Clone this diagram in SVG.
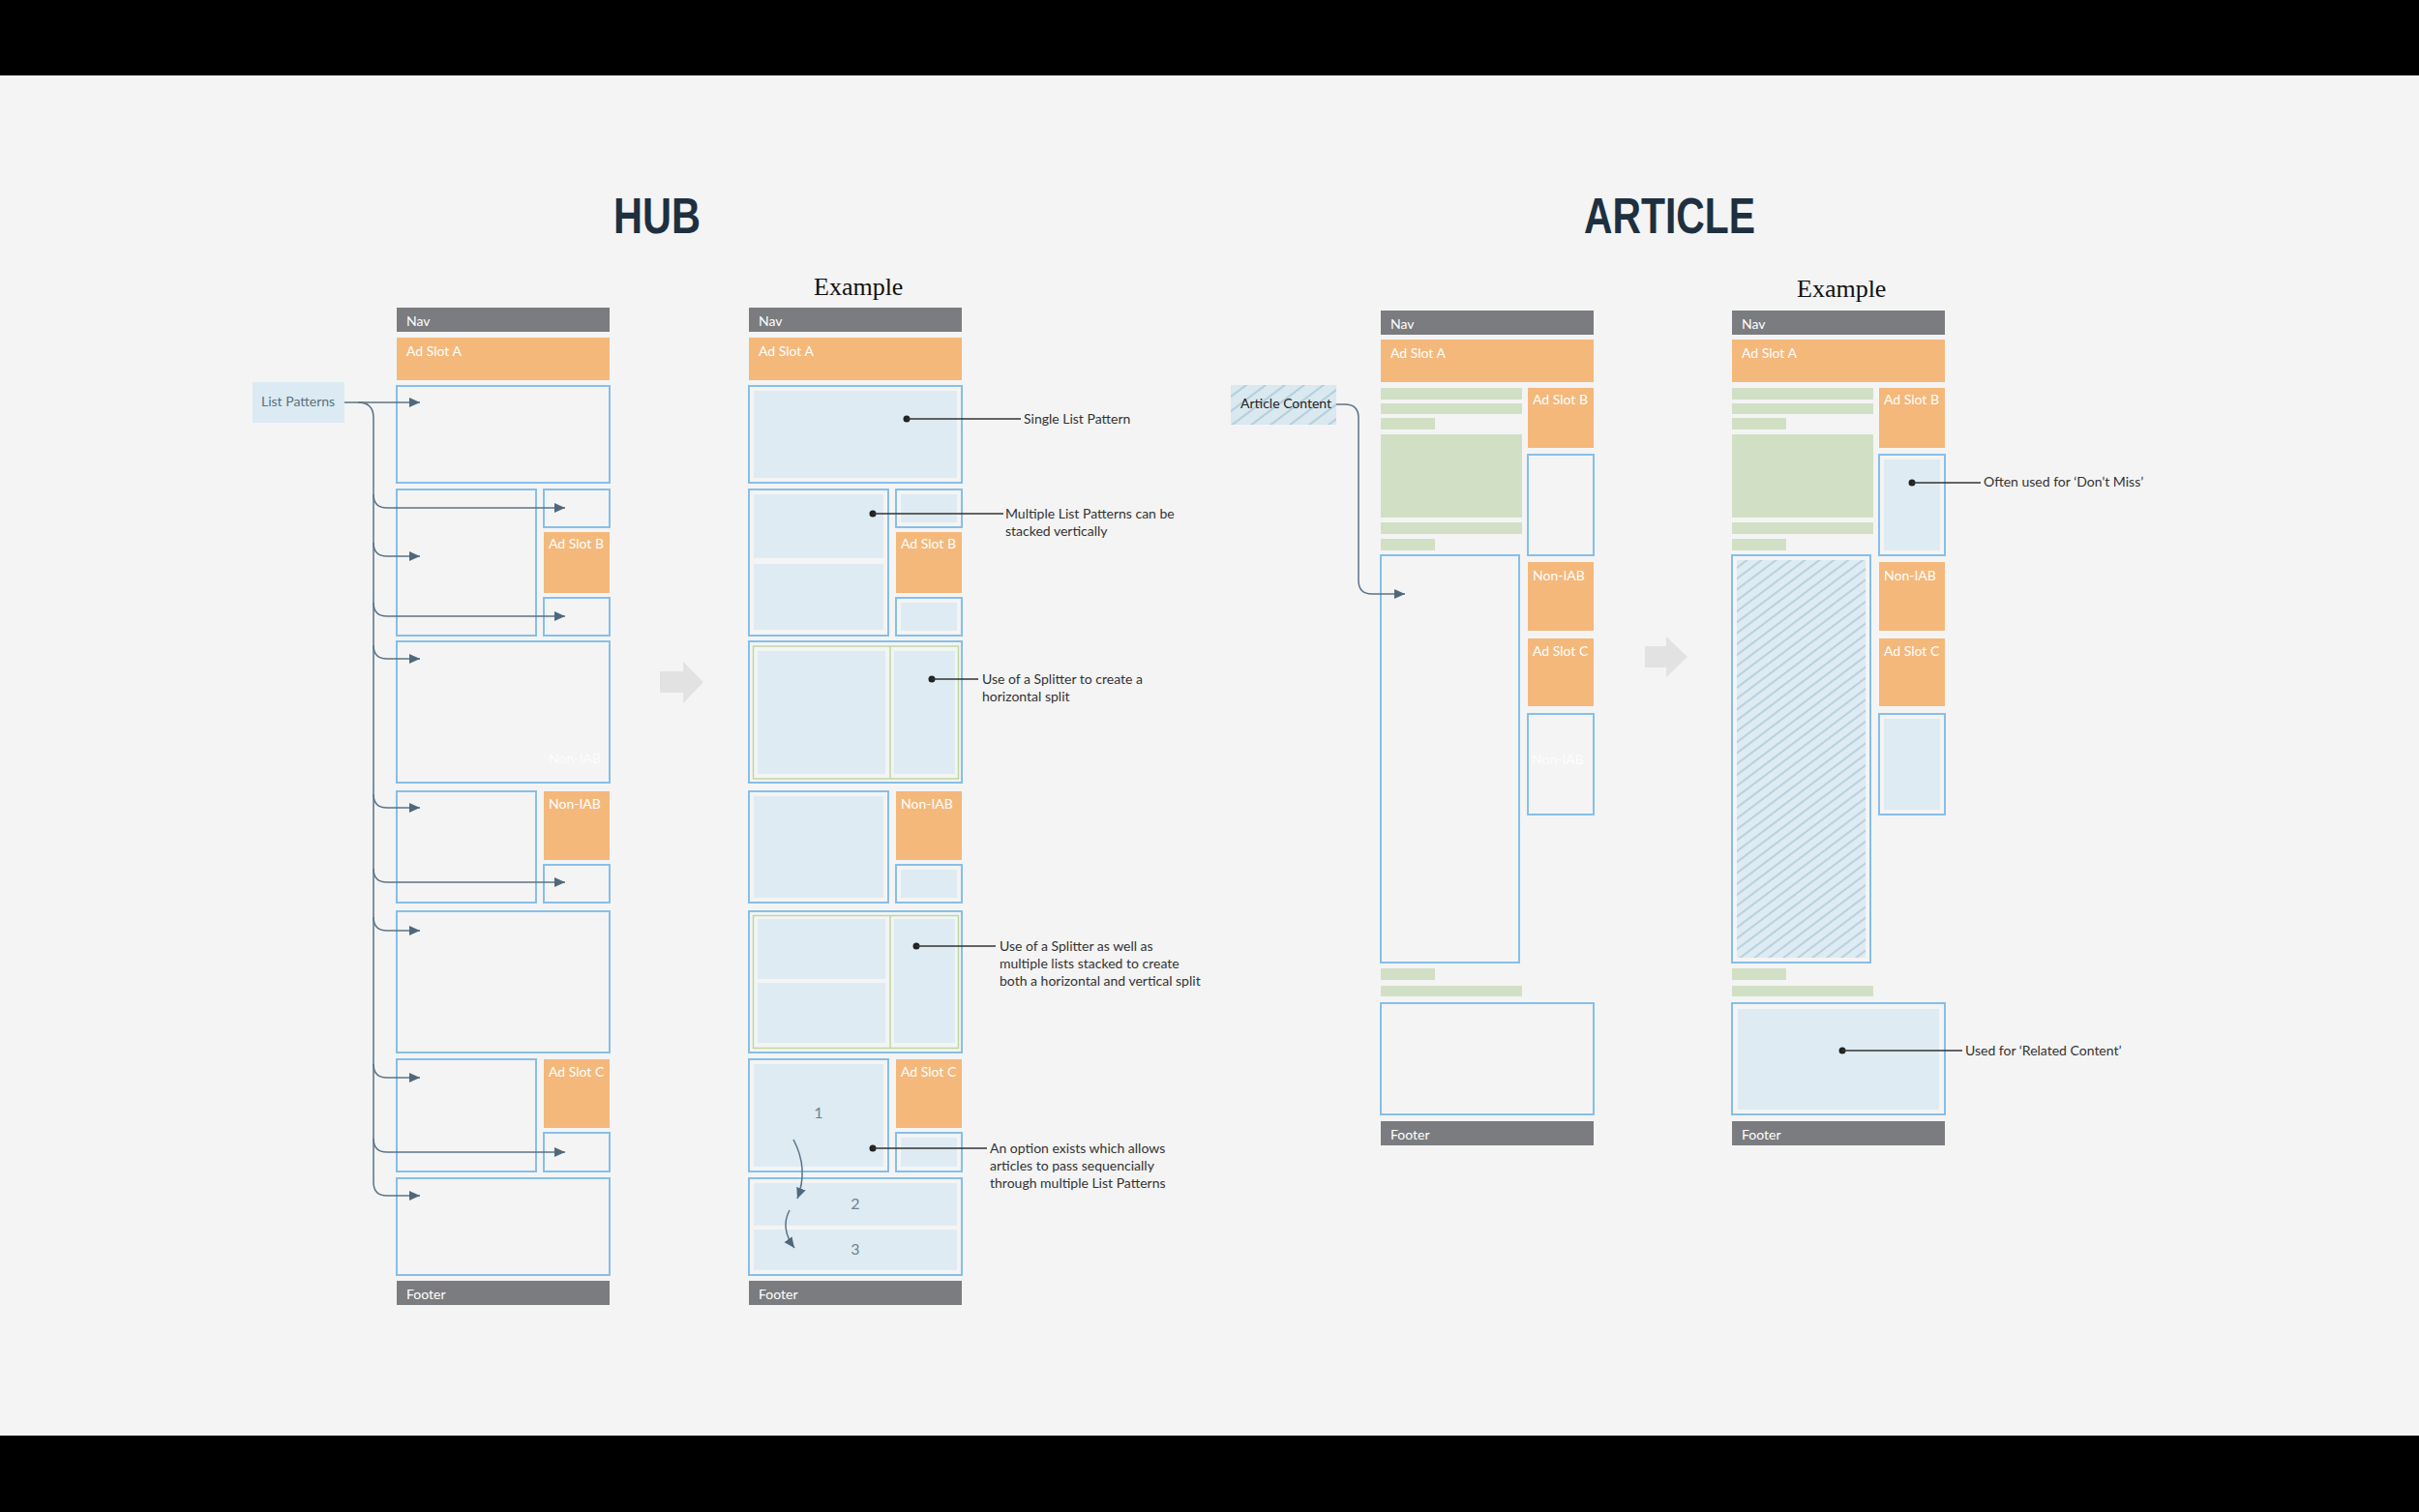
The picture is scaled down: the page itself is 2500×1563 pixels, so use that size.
<svg xmlns="http://www.w3.org/2000/svg" width="2500" height="1563" viewBox="0 0 2500 1563">
<defs>
<style>
.lb{fill:none;stroke:#86bfea;stroke-width:2}
.fill{fill:#deebf2}
.or{fill:#f4b87b}
.gr{fill:#7b7c7f}
.gb{fill:#d1e0c4}
.sp{fill:none;stroke:#bcd9a2;stroke-width:1.5}
.wt{font-family:Lato,"Liberation Sans",sans-serif;font-size:14px;fill:#ffffff}
.ft{font-family:Lato,"Liberation Sans",sans-serif;font-size:14px;fill:#ffffff;opacity:0.85}
.an{font-family:Lato,"Liberation Sans",sans-serif;font-size:14px;fill:#333333}
.num{font-family:Lato,"Liberation Sans",sans-serif;font-size:16px;fill:#6e8394}
.ttl{font-family:"Liberation Sans",Arial,sans-serif;font-weight:bold;font-size:51px;fill:#1e3040}
.ex{font-family:"Liberation Serif","Times New Roman",serif;font-size:26px;fill:#111}
.cn{fill:none;stroke:#5b7387;stroke-width:1.5}
.al{fill:none;stroke:#333;stroke-width:1.3}
.dot{fill:#222}
.big{fill:#e2e2e2}
</style>
<marker id="ah" markerUnits="userSpaceOnUse" markerWidth="12" markerHeight="10" refX="11" refY="5" orient="auto">
<path d="M0,0 L11,5 L0,10 Z" fill="#4f687c"/>
</marker>
<pattern id="hatch" patternUnits="userSpaceOnUse" width="9" height="9" patternTransform="rotate(53)">
<rect width="9" height="9" fill="#deebf2"/>
<line x1="1" y1="0" x2="1" y2="9" stroke="#aecbd9" stroke-width="1.6"/>
</pattern>
<pattern id="hatch2" patternUnits="userSpaceOnUse" width="12" height="12" patternTransform="rotate(53)">
<rect width="12" height="12" fill="#dae8ef"/>
<line x1="1" y1="0" x2="1" y2="12" stroke="#b3cfdc" stroke-width="2"/>
</pattern>
</defs>

<rect x="0" y="0" width="2500" height="1563" fill="#f4f4f4"/>
<rect x="0" y="0" width="2500" height="78" fill="#000"/>
<rect x="0" y="1484" width="2500" height="79" fill="#000"/>

<g id="titles">
<text class="ttl" x="634" y="241" textLength="90" lengthAdjust="spacingAndGlyphs">HUB</text>
<text class="ttl" x="1637" y="241" textLength="177" lengthAdjust="spacingAndGlyphs">ARTICLE</text>
<text class="ex" x="841" y="305">Example</text>
<text class="ex" x="1857" y="307">Example</text>
</g>

<!-- HUB left column -->
<g id="hub-nav"><rect class="gr" x="410" y="318" width="220" height="25"/><text class="wt" x="420" y="337">Nav</text></g>
<g id="hub-adA"><rect class="or" x="410" y="349" width="220" height="44"/><text class="wt" x="420" y="368">Ad Slot A</text></g>
<g id="hub-list1"><rect class="lb" x="410" y="399" width="220" height="100"/></g>
<g id="hub-row2">
<rect class="lb" x="410" y="506" width="144" height="151"/>
<rect class="lb" x="562" y="506" width="68" height="39"/>
<rect class="or" x="562" y="550" width="68" height="63"/><text class="wt" x="567" y="567">Ad Slot B</text>
<rect class="lb" x="562" y="618" width="68" height="39"/>
</g>
<g id="hub-row3"><rect class="lb" x="410" y="663" width="220" height="146"/><text class="ft" x="567" y="789">Non-IAB</text></g>
<g id="hub-row4">
<rect class="lb" x="410" y="818" width="144" height="115"/>
<rect class="or" x="562" y="818" width="68" height="71"/><text class="wt" x="567" y="836">Non-IAB</text>
<rect class="lb" x="562" y="894" width="68" height="39"/>
</g>
<g id="hub-row5"><rect class="lb" x="410" y="942" width="220" height="146"/></g>
<g id="hub-row6">
<rect class="lb" x="410" y="1095" width="144" height="116"/>
<rect class="or" x="562" y="1095" width="68" height="71"/><text class="wt" x="567" y="1113">Ad Slot C</text>
<rect class="lb" x="562" y="1171" width="68" height="40"/>
</g>
<g id="hub-row7"><rect class="lb" x="410" y="1218" width="220" height="100"/></g>
<g id="hub-footer"><rect class="gr" x="410" y="1324" width="220" height="25"/><text class="wt" x="420" y="1343">Footer</text></g>

<g id="list-patterns-label">
<rect x="261" y="395" width="95" height="42" fill="#dcebf3"/>
<text x="270" y="420" font-family="Lato,'Liberation Sans',sans-serif" font-size="14" fill="#5a7080">List Patterns</text>
</g>

<!-- HUB example column -->
<g id="ex-nav"><rect class="gr" x="774" y="318" width="220" height="25"/><text class="wt" x="784" y="337">Nav</text></g>
<g id="ex-adA"><rect class="or" x="774" y="349" width="220" height="44"/><text class="wt" x="784" y="368">Ad Slot A</text></g>
<g id="ex-list1"><rect class="lb" x="774" y="399" width="220" height="100"/><rect class="fill" x="779" y="404" width="210" height="90"/></g>
<g id="ex-row2">
<rect class="lb" x="774" y="506" width="144" height="151"/>
<rect class="fill" x="779" y="511" width="134" height="66"/>
<rect class="fill" x="779" y="583" width="134" height="68"/>
<rect class="lb" x="926" y="506" width="68" height="39"/><rect class="fill" x="931" y="511" width="58" height="29"/>
<rect class="or" x="926" y="550" width="68" height="63"/><text class="wt" x="931" y="567">Ad Slot B</text>
<rect class="lb" x="926" y="618" width="68" height="39"/><rect class="fill" x="931" y="623" width="58" height="29"/>
</g>
<g id="ex-row3">
<rect class="lb" x="774" y="663" width="220" height="146"/>
<rect class="fill" x="783" y="673" width="132" height="127"/>
<rect class="fill" x="924" y="673" width="63" height="127"/>
<rect class="sp" x="778.5" y="668" width="212" height="137"/>
<line class="sp" x1="920" y1="668" x2="920" y2="805"/>
</g>
<g id="ex-row4">
<rect class="lb" x="774" y="818" width="144" height="115"/><rect class="fill" x="779" y="823" width="134" height="105"/>
<rect class="or" x="926" y="818" width="68" height="71"/><text class="wt" x="931" y="836">Non-IAB</text>
<rect class="lb" x="926" y="894" width="68" height="39"/><rect class="fill" x="931" y="899" width="58" height="29"/>
</g>
<g id="ex-row5">
<rect class="lb" x="774" y="942" width="220" height="146"/>
<rect class="fill" x="783" y="950" width="132" height="62"/>
<rect class="fill" x="783" y="1016" width="132" height="62"/>
<rect class="fill" x="924" y="950" width="63" height="128"/>
<rect class="sp" x="778.5" y="946.5" width="212" height="137"/>
<line class="sp" x1="920" y1="946.5" x2="920" y2="1083.5"/>
</g>
<g id="ex-row6">
<rect class="lb" x="774" y="1095" width="144" height="116"/><rect class="fill" x="779" y="1100" width="134" height="106"/>
<text class="num" x="846" y="1156" text-anchor="middle">1</text>
<rect class="or" x="926" y="1095" width="68" height="71"/><text class="wt" x="931" y="1113">Ad Slot C</text>
<rect class="lb" x="926" y="1171" width="68" height="40"/><rect class="fill" x="931" y="1176" width="58" height="30"/>
</g>
<g id="ex-row7">
<rect class="lb" x="774" y="1218" width="220" height="100"/>
<rect class="fill" x="779" y="1223" width="210" height="44"/>
<rect class="fill" x="779" y="1271" width="210" height="42"/>
<text class="num" x="884" y="1250" text-anchor="middle">2</text>
<text class="num" x="884" y="1297" text-anchor="middle">3</text>
</g>
<g id="ex-footer"><rect class="gr" x="774" y="1324" width="220" height="25"/><text class="wt" x="784" y="1343">Footer</text></g>

<!-- ARTICLE left column -->
<g id="art-nav"><rect class="gr" x="1427" y="321" width="220" height="25"/><text class="wt" x="1437" y="340">Nav</text></g>
<g id="art-adA"><rect class="or" x="1427" y="351" width="220" height="44"/><text class="wt" x="1437" y="370">Ad Slot A</text></g>
<g id="art-text">
<rect class="gb" x="1427" y="401" width="146" height="12"/>
<rect class="gb" x="1427" y="417" width="146" height="11"/>
<rect class="gb" x="1427" y="432" width="56" height="12"/>
<rect class="gb" x="1427" y="449" width="146" height="86"/>
<rect class="gb" x="1427" y="540" width="146" height="12"/>
<rect class="gb" x="1427" y="557" width="56" height="12"/>
<rect class="gb" x="1427" y="1001" width="56" height="12"/>
<rect class="gb" x="1427" y="1019" width="146" height="11"/>
</g>
<g id="art-adB"><rect class="or" x="1579" y="401" width="68" height="62"/><text class="wt" x="1584" y="418">Ad Slot B</text></g>
<g id="art-box1"><rect class="lb" x="1579" y="470" width="68" height="104"/></g>
<g id="art-main"><rect class="lb" x="1427" y="574" width="143" height="421"/></g>
<g id="art-nonIAB"><rect class="or" x="1579" y="581" width="68" height="71"/><text class="wt" x="1584" y="600">Non-IAB</text></g>
<g id="art-adC"><rect class="or" x="1579" y="660" width="68" height="70"/><text class="wt" x="1584" y="678">Ad Slot C</text></g>
<g id="art-box2"><rect class="lb" x="1579" y="738" width="68" height="104"/><text class="ft" x="1583" y="790">Non-IAB</text></g>
<g id="art-bottom"><rect class="lb" x="1427" y="1037" width="220" height="115"/></g>
<g id="art-footer"><rect class="gr" x="1427" y="1159" width="220" height="25"/><text class="wt" x="1437" y="1178">Footer</text></g>

<g id="article-content-label">
<rect x="1272" y="398" width="109" height="41" fill="url(#hatch2)"/>
<text x="1282" y="422" font-family="Lato,'Liberation Sans',sans-serif" font-size="14" fill="#222">Article Content</text>
</g>

<!-- ARTICLE example column -->
<g id="axe-nav"><rect class="gr" x="1790" y="321" width="220" height="25"/><text class="wt" x="1800" y="340">Nav</text></g>
<g id="axe-adA"><rect class="or" x="1790" y="351" width="220" height="44"/><text class="wt" x="1800" y="370">Ad Slot A</text></g>
<g id="axe-text">
<rect class="gb" x="1790" y="401" width="146" height="12"/>
<rect class="gb" x="1790" y="417" width="146" height="11"/>
<rect class="gb" x="1790" y="432" width="56" height="12"/>
<rect class="gb" x="1790" y="449" width="146" height="86"/>
<rect class="gb" x="1790" y="540" width="146" height="12"/>
<rect class="gb" x="1790" y="557" width="56" height="12"/>
<rect class="gb" x="1790" y="1001" width="56" height="12"/>
<rect class="gb" x="1790" y="1019" width="146" height="11"/>
</g>
<g id="axe-adB"><rect class="or" x="1942" y="401" width="68" height="62"/><text class="wt" x="1947" y="418">Ad Slot B</text></g>
<g id="axe-box1"><rect class="lb" x="1942" y="470" width="68" height="104"/><rect class="fill" x="1947" y="475" width="58" height="94"/></g>
<g id="axe-main"><rect class="lb" x="1790" y="574" width="143" height="421"/><rect x="1795" y="579" width="133" height="411" fill="url(#hatch)"/></g>
<g id="axe-nonIAB"><rect class="or" x="1942" y="581" width="68" height="71"/><text class="wt" x="1947" y="600">Non-IAB</text></g>
<g id="axe-adC"><rect class="or" x="1942" y="660" width="68" height="70"/><text class="wt" x="1947" y="678">Ad Slot C</text></g>
<g id="axe-box2"><rect class="lb" x="1942" y="738" width="68" height="104"/><rect class="fill" x="1947" y="743" width="58" height="94"/></g>
<g id="axe-bottom"><rect class="lb" x="1790" y="1037" width="220" height="115"/><rect class="fill" x="1796" y="1043" width="208" height="104"/></g>
<g id="axe-footer"><rect class="gr" x="1790" y="1159" width="220" height="25"/><text class="wt" x="1800" y="1178">Footer</text></g>

<!-- Big gray arrows -->
<g id="arrow-hub"><polygon class="big" points="682,694 706,694 706,684 727,705 706,727 706,716 682,716"/></g>
<g id="arrow-article"><polygon class="big" points="1700,668 1722,668 1722,658 1744,679 1722,700 1722,690 1700,690"/></g>

<!-- Connectors -->
<g id="connectors">
<path class="cn" d="M356,416 H434" marker-end="url(#ah)"/>
<path class="cn" d="M370,416 Q386,416 386,432 V1222 Q386,1236 400,1236 H434" marker-end="url(#ah)"/>
<path class="cn" d="M386,511 Q386,525 400,525 H584" marker-end="url(#ah)"/>
<path class="cn" d="M386,561 Q386,575 400,575 H434" marker-end="url(#ah)"/>
<path class="cn" d="M386,623 Q386,637 400,637 H584" marker-end="url(#ah)"/>
<path class="cn" d="M386,667 Q386,681 400,681 H434" marker-end="url(#ah)"/>
<path class="cn" d="M386,821 Q386,835 400,835 H434" marker-end="url(#ah)"/>
<path class="cn" d="M386,898 Q386,912 400,912 H584" marker-end="url(#ah)"/>
<path class="cn" d="M386,948 Q386,962 400,962 H434" marker-end="url(#ah)"/>
<path class="cn" d="M386,1100 Q386,1114 400,1114 H434" marker-end="url(#ah)"/>
<path class="cn" d="M386,1177 Q386,1191 400,1191 H584" marker-end="url(#ah)"/>
<path class="cn" d="M1381,418 H1390 Q1404,418 1404,432 V600 Q1404,614 1418,614 H1452" marker-end="url(#ah)"/>
<path class="cn" d="M820,1178 Q836,1208 824,1239" marker-end="url(#ah)"/>
<path class="cn" d="M816,1251 Q806,1270 821,1290" marker-end="url(#ah)"/>

<circle class="dot" cx="937" cy="433" r="3.5"/><path class="al" d="M937,433 H1055"/>
<circle class="dot" cx="902" cy="531" r="3.5"/><path class="al" d="M902,531 H1037"/>
<circle class="dot" cx="963" cy="702" r="3.5"/><path class="al" d="M963,702 H1011"/>
<circle class="dot" cx="947" cy="978" r="3.5"/><path class="al" d="M947,978 H1029"/>
<circle class="dot" cx="902" cy="1187" r="3.5"/><path class="al" d="M902,1187 H1020"/>
<circle class="dot" cx="1976" cy="499" r="3.5"/><path class="al" d="M1976,499 H2047"/>
<circle class="dot" cx="1904" cy="1086" r="3.5"/><path class="al" d="M1904,1086 H2028"/>
</g>

<g id="annotations">
<text class="an" x="1058" y="438">Single List Pattern</text>
<text class="an" x="1039" y="536">Multiple List Patterns can be</text>
<text class="an" x="1039" y="554">stacked vertically</text>
<text class="an" x="1015" y="707">Use of a Splitter to create a</text>
<text class="an" x="1015" y="725">horizontal split</text>
<text class="an" x="1033" y="983">Use of a Splitter as well as</text>
<text class="an" x="1033" y="1001">multiple lists stacked to create</text>
<text class="an" x="1033" y="1019">both a horizontal and vertical split</text>
<text class="an" x="1023" y="1192">An option exists which allows</text>
<text class="an" x="1023" y="1210">articles to pass sequencially</text>
<text class="an" x="1023" y="1228">through multiple List Patterns</text>
<text class="an" x="2050" y="503">Often used for ‘Don’t Miss’</text>
<text class="an" x="2031" y="1091">Used for ‘Related Content’</text>
</g>
</svg>
